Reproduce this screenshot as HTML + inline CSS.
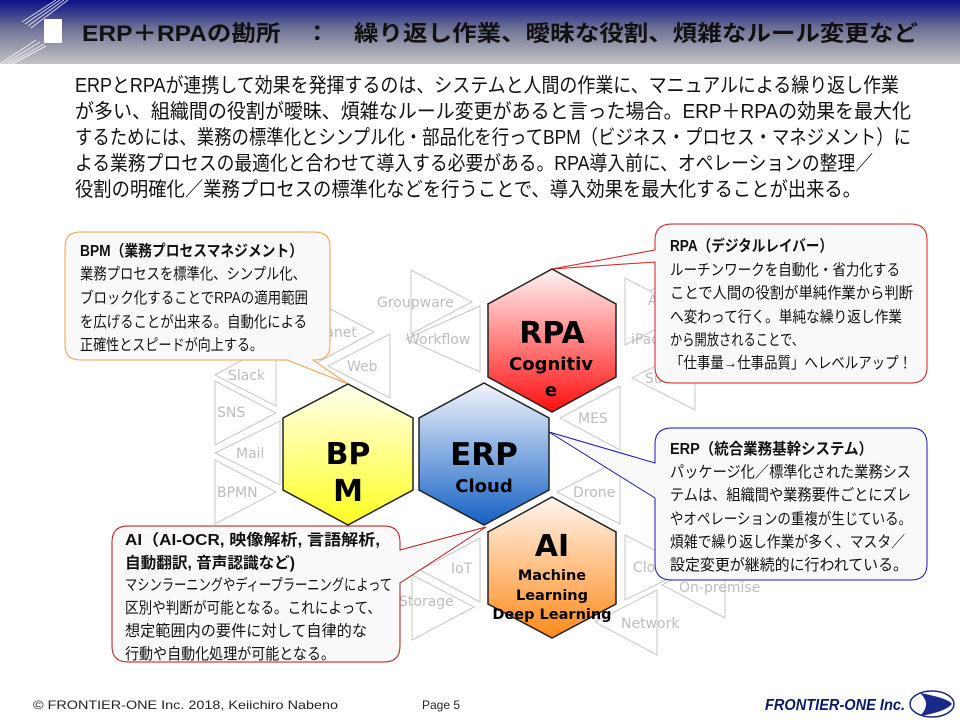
<!DOCTYPE html>
<html><head><meta charset="utf-8"><style>
html,body{margin:0;padding:0;background:#fff;}
svg{display:block;font-family:"Liberation Sans","Noto Sans CJK JP",sans-serif;}
</style></head><body>
<svg width="960" height="720" viewBox="0 0 960 720" xmlns="http://www.w3.org/2000/svg">
<defs>
<linearGradient id="hd" x1="0" y1="0" x2="0" y2="1"><stop offset="0" stop-color="#0b0f86"/><stop offset="0.45" stop-color="#6f7396"/><stop offset="1" stop-color="#c4c4c4"/></linearGradient>
<linearGradient id="gr" x1="0" y1="0" x2="0" y2="1"><stop offset="0" stop-color="#fff4f4"/><stop offset="1" stop-color="#ff1010"/></linearGradient>
<linearGradient id="gy" x1="0" y1="0" x2="0" y2="1"><stop offset="0" stop-color="#fffff0"/><stop offset="1" stop-color="#ffff20"/></linearGradient>
<linearGradient id="gb" x1="0" y1="0" x2="0" y2="1"><stop offset="0" stop-color="#f4f6fc"/><stop offset="1" stop-color="#1461c4"/></linearGradient>
<linearGradient id="go" x1="0" y1="0" x2="0" y2="1"><stop offset="0" stop-color="#fff6f0"/><stop offset="1" stop-color="#ff8a18"/></linearGradient>
</defs>
<rect x="0" y="0" width="960" height="64" fill="url(#hd)"/>
<g stroke="#fff" stroke-width="1" opacity="0.8">
<line x1="22" y1="22" x2="56" y2="0"/><line x1="25" y1="24" x2="60" y2="0"/><line x1="28" y1="26" x2="64" y2="0"/><line x1="31" y1="28" x2="68" y2="0"/>
<line x1="0" y1="64" x2="36" y2="40"/><line x1="4" y1="64" x2="40" y2="42"/><line x1="8" y1="64" x2="44" y2="44"/><line x1="12" y1="64" x2="46" y2="46"/>
</g>
<rect x="44" y="19" width="18" height="24" fill="#fff"/>
<text x="82" y="41" font-size="22" font-weight="bold" fill="#111" textLength="836" lengthAdjust="spacingAndGlyphs">ERP＋RPAの勘所　：　繰り返し作業、曖昧な役割、煩雑なルール変更など</text>

<g font-size="20" fill="#111">
<text x="75" y="92" textLength="824" lengthAdjust="spacingAndGlyphs">ERPとRPAが連携して効果を発揮するのは、システムと人間の作業に、マニュアルによる繰り返し作業</text>
<text x="75" y="118" textLength="836" lengthAdjust="spacingAndGlyphs">が多い、組織間の役割が曖昧、煩雑なルール変更があると言った場合。ERP＋RPAの効果を最大化</text>
<text x="75" y="144" textLength="836" lengthAdjust="spacingAndGlyphs">するためには、業務の標準化とシンプル化・部品化を行ってBPM（ビジネス・プロセス・マネジメント）に</text>
<text x="75" y="170" textLength="798" lengthAdjust="spacingAndGlyphs">よる業務プロセスの最適化と合わせて導入する必要がある。RPA導入前に、オペレーションの整理／</text>
<text x="75" y="196" textLength="786" lengthAdjust="spacingAndGlyphs">役割の明確化／業務プロセスの標準化などを行うことで、導入効果を最大化することが出来る。</text>
</g>

<g fill="#fff" stroke="#c8c8c8" stroke-width="1">
<polygon points="411,270 411,334 472,302"/>
<polygon points="406,339 480,306 480,372"/>
<polygon points="313,300 313,365 374,332"/>
<polygon points="328,366 390,334 390,398"/>
<polygon points="215,375 276,342 276,406"/>
<polygon points="215,381 215,445 276,413"/>
<polygon points="215,453 280,421 280,485"/>
<polygon points="215,460 215,524 276,492"/>
<polygon points="420,570 480,538 480,602"/>
<polygon points="412,575 412,640 474,607"/>
<polygon points="632,300 695,268 695,332"/>
<polygon points="625,278 625,345 690,312"/>
<polygon points="632,378 695,346 695,410"/>
<polygon points="560,418 620,386 620,450"/>
<polygon points="557,492 620,460 620,524"/>
<polygon points="625,535 625,600 690,568"/>
<polygon points="662,585 725,552 725,618"/>
<polygon points="595,622 657,590 657,655"/>
</g>
<g fill="#bdbdbd" font-size="14" font-family="DejaVu Sans, sans-serif">
<text x="377" y="307">Groupware</text><text x="406" y="344">Workflow</text><text x="301" y="337">Intranet</text>
<text x="347" y="371">Web</text><text x="228" y="380">Slack</text><text x="217" y="417">SNS</text>
<text x="236" y="458">Mail</text><text x="217" y="497">BPMN</text><text x="451" y="573">IoT</text>
<text x="399" y="606">Storage</text><text x="648" y="305">Android</text><text x="631" y="344">iPad</text>
<text x="645" y="383">Surface</text><text x="578" y="423">MES</text><text x="573" y="497">Drone</text>
<text x="633" y="572">Cloud</text><text x="679" y="592">On-premise</text><text x="621" y="628">Network</text>
</g>

<path d="M80,232 H315 Q330,232 330,247 V345 Q330,360 315,360 H313 L348,384 L287,360 H80 Q65,360 65,345 V247 Q65,232 80,232 Z" fill="#f9f9f9" stroke="#f0a050" stroke-width="1"/>
<path d="M672,224 H911 Q927,224 927,240 V367 Q927,383 911,383 H672 Q655,383 655,367 V262 L552,269 L655,250 V240 Q655,224 672,224 Z" fill="#f9f9f9" stroke="#d02020" stroke-width="1"/>
<path d="M672,428 H911 Q927,428 927,444 V564 Q927,580 911,580 H672 Q655,580 655,564 V498 L549,432 L655,463 V444 Q655,428 672,428 Z" fill="#f9f9f9" stroke="#1818b0" stroke-width="1"/>
<path d="M128,526 H384 Q400,526 400,542 V550 L486,527 L400,583 V646 Q400,662 384,662 H128 Q112,662 112,646 V542 Q112,526 128,526 Z" fill="#f9f9f9" stroke="#b01818" stroke-width="1"/>

<g font-size="15.5" fill="#111">
<text x="80" y="256" font-weight="bold" textLength="223" lengthAdjust="spacingAndGlyphs">BPM（業務プロセスマネジメント）</text>
<text x="80" y="279" textLength="226" lengthAdjust="spacingAndGlyphs">業務プロセスを標準化、シンプル化、</text>
<text x="80" y="303" textLength="228" lengthAdjust="spacingAndGlyphs">ブロック化することでRPAの適用範囲</text>
<text x="80" y="327" textLength="227" lengthAdjust="spacingAndGlyphs">を広げることが出来る。自動化による</text>
<text x="80" y="350" textLength="183" lengthAdjust="spacingAndGlyphs">正確性とスピードが向上する。</text>

<text x="670" y="251" font-weight="bold" textLength="163" lengthAdjust="spacingAndGlyphs">RPA（デジタルレイバー）</text>
<text x="670" y="275" textLength="230" lengthAdjust="spacingAndGlyphs">ルーチンワークを自動化・省力化する</text>
<text x="670" y="298" textLength="243" lengthAdjust="spacingAndGlyphs">ことで人間の役割が単純作業から判断</text>
<text x="670" y="322" textLength="232" lengthAdjust="spacingAndGlyphs">へ変わって行く。単純な繰り返し作業</text>
<text x="670" y="345" textLength="134" lengthAdjust="spacingAndGlyphs">から開放されることで、</text>
<text x="670" y="368" textLength="242" lengthAdjust="spacingAndGlyphs">「仕事量→仕事品質」へレベルアップ！</text>

<text x="670" y="454" font-weight="bold" textLength="203" lengthAdjust="spacingAndGlyphs">ERP（統合業務基幹システム）</text>
<text x="670" y="477" textLength="241" lengthAdjust="spacingAndGlyphs">パッケージ化／標準化された業務シス</text>
<text x="670" y="500" textLength="241" lengthAdjust="spacingAndGlyphs">テムは、組織間や業務要件ごとにズレ</text>
<text x="670" y="524" textLength="242" lengthAdjust="spacingAndGlyphs">やオペレーションの重複が生じている。</text>
<text x="670" y="547" textLength="235" lengthAdjust="spacingAndGlyphs">煩雑で繰り返し作業が多く、マスタ／</text>
<text x="670" y="570" textLength="238" lengthAdjust="spacingAndGlyphs">設定変更が継続的に行われている。</text>

<text x="125" y="545" font-weight="bold" textLength="255" lengthAdjust="spacingAndGlyphs">AI（AI-OCR, 映像解析, 言語解析,</text>
<text x="125" y="568" font-weight="bold" textLength="170" lengthAdjust="spacingAndGlyphs">自動翻訳, 音声認識など)</text>
<text x="125" y="590" textLength="267" lengthAdjust="spacingAndGlyphs">マシンラーニングやディープラーニングによって</text>
<text x="125" y="613" textLength="256" lengthAdjust="spacingAndGlyphs">区別や判断が可能となる。これによって、</text>
<text x="125" y="636" textLength="242" lengthAdjust="spacingAndGlyphs">想定範囲内の要件に対して自律的な</text>
<text x="125" y="659" textLength="210" lengthAdjust="spacingAndGlyphs">行動や自動化処理が可能となる。</text>
</g>

<g stroke="#222" stroke-width="1.5">
<polygon points="552,269 616,304 616,377 552,412 488,377 488,304" fill="url(#gr)"/>
<polygon points="348,384 413,418 413,490 348,525 283,490 283,418" fill="url(#gy)"/>
<polygon points="484,383 549,418 549,490 484,525 419,490 419,418" fill="url(#gb)"/>
<polygon points="552,497 616,532 616,604 552,638 488,604 488,532" fill="url(#go)"/>
</g>
<g font-family="DejaVu Sans, sans-serif" font-weight="bold" fill="#000" text-anchor="middle">
<text x="552" y="343" font-size="30">RPA</text>
<text x="551" y="370" font-size="18">Cognitiv</text>
<text x="551" y="396" font-size="18">e</text>
<text x="348" y="464" font-size="30">BP</text>
<text x="348" y="501" font-size="30">M</text>
<text x="484" y="465" font-size="31">ERP</text>
<text x="484" y="492" font-size="18">Cloud</text>
<text x="552" y="556" font-size="30">AI</text>
<text x="552" y="580" font-size="14.5">Machine</text>
<text x="552" y="600" font-size="14.5">Learning</text>
<text x="552" y="619" font-size="14.5">Deep Learning</text>
</g>

<g font-size="12" fill="#222">
<text x="33" y="709" textLength="305" lengthAdjust="spacingAndGlyphs">© FRONTIER-ONE Inc. 2018,  Keiichiro  Nabeno</text>
<text x="422" y="709">Page 5</text>
</g>
<text x="765" y="710" font-size="16" font-weight="bold" font-style="italic" fill="#0a1a6a" textLength="140" lengthAdjust="spacingAndGlyphs">FRONTIER-ONE Inc.</text>
<ellipse cx="932" cy="704" rx="22" ry="13" fill="#fff" stroke="#1a2a7a" stroke-width="1.5"/>
<path d="M920,693 Q948,698 952,704 Q945,712 920,716 Q932,704 920,693 Z" fill="#1a2a8a"/>
</svg>
</body></html>
